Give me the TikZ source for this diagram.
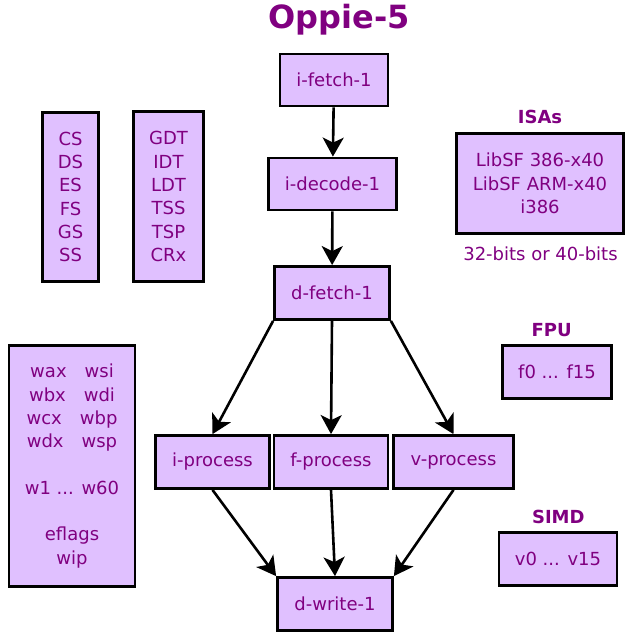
\documentclass[tikz,border=0pt]{standalone}
\usepackage{fontspec}
\setmainfont{DejaVu Sans}
\usetikzlibrary{arrows.meta}
\definecolor{oppielila}{HTML}{E0C0FF}
\definecolor{oppietext}{HTML}{800080}
\tikzset{
	einheit/.style={draw=black, fill=oppielila, line width=2.8pt, text=oppietext, align=center, inner sep=0pt, font=\fontsize{18}{23.3}\selectfont},
	beschriftung/.style={text=oppietext, inner sep=0pt, anchor=base, font=\fontsize{18}{23.3}\selectfont\bfseries},
	pfeil/.style={-{Stealth[length=19pt,width=21pt,inset=5pt]}, line width=2.6pt}
}
\begin{document}
\begin{tikzpicture}[x=1pt,y=-1pt]
		\useasboundingbox (0,0) rectangle (636,640);
		
		% zeichne Titel
		\node[beschriftung, font=\fontsize{32}{38}\selectfont\bfseries] (titel) at (339,28.5) {Oppie-5};
		
		% zeichne Pipeline
		\node[einheit, minimum width=108pt, minimum height=52pt] (ifetch) at (334,80) {i-fetch-1};
		\node[einheit, minimum width=128pt, minimum height=52pt] (idecode) at (332.5,184) {i-decode-1};
		\node[einheit, minimum width=115pt, minimum height=53pt] (dfetch) at (332,293) {d-fetch-1};
		\node[einheit, minimum width=114pt, minimum height=53pt] (iprocess) at (212.5,462) {i-process};
		\node[einheit, minimum width=114pt, minimum height=53pt] (fprocess) at (331,462) {f-process};
		\node[einheit, minimum width=120pt, minimum height=53pt] (vprocess) at (453.5,462) {v-process};
		\node[einheit, minimum width=115pt, minimum height=53pt] (dwrite) at (335,604) {d-write-1};
		
		% zeichne Register
		\node[einheit, minimum width=56pt, minimum height=169pt] (segmente) at (70.5,197) {CS\\DS\\ES\\FS\\GS\\SS};
		\node[einheit, minimum width=70pt, minimum height=170pt] (tabellen) at (168.5,196.5) {GDT\\IDT\\LDT\\TSS\\TSP\\CRx};
		\node[einheit, minimum width=126pt, minimum height=241pt] (wregister) at (72,466) {wax\quad wsi\\wbx\quad wdi\\wcx\quad wbp\\wdx\quad wsp\\~\\w1 ... w60\\~\\eflags\\wip};
		
		% zeichne ISAs, FPU und SIMD
		\node[beschriftung] (isalabel) at (540,123) {ISAs};
		\node[einheit, minimum width=167pt, minimum height=100pt] (isas) at (540,183.5) {LibSF 386-x40\\LibSF ARM-x40\\i386};
		\node[beschriftung, font=\fontsize{18}{23.3}\selectfont] (bits) at (540.5,260) {32-bits or 40-bits};
		\node[beschriftung] (fpulabel) at (551.7,336) {FPU};
		\node[einheit, minimum width=109pt, minimum height=53pt] (fpu) at (557,372) {f0 ... f15};
		\node[beschriftung] (simdlabel) at (558.3,523) {SIMD};
		\node[einheit, minimum width=118pt, minimum height=53pt] (simd) at (558,558.7) {v0 ... v15};
		
		% zeichne Verbindungen
		\draw[pfeil] (ifetch) -- (idecode);
		\draw[pfeil] (idecode) -- (dfetch);
		\draw[pfeil] (dfetch.south west) -- (iprocess.north);
		\draw[pfeil] (dfetch.south) -- (fprocess.north);
		\draw[pfeil] (dfetch.south east) -- (vprocess.north);
		\draw[pfeil] (iprocess.south) -- (dwrite.north west);
		\draw[pfeil] (fprocess.south) -- (dwrite.north);
		\draw[pfeil] (vprocess.south) -- (dwrite.north east);
	\end{tikzpicture}
\end{document}
